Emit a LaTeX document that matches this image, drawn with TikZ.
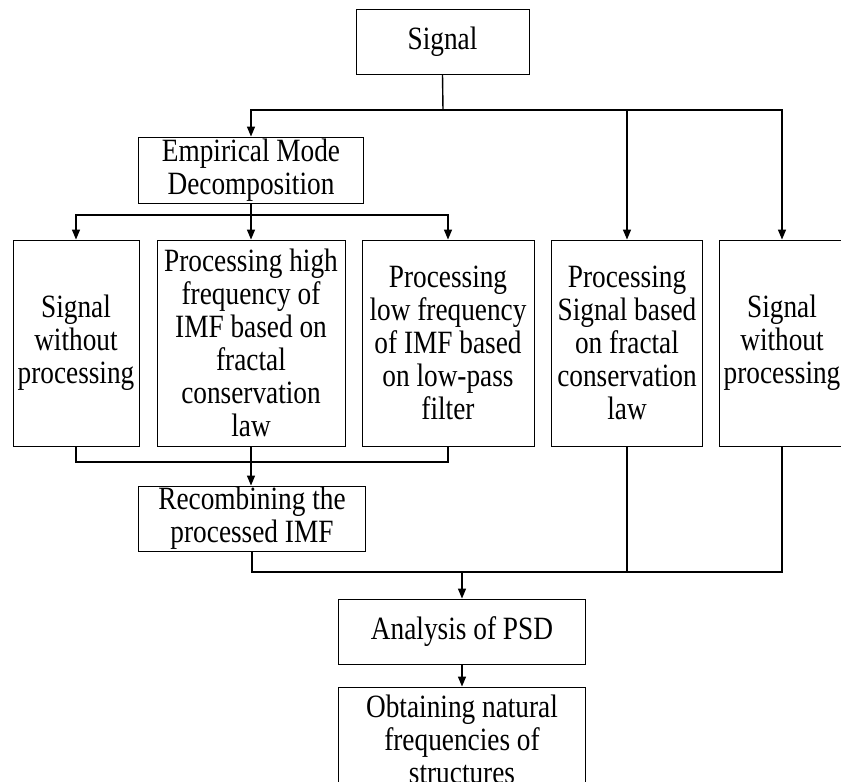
\documentclass[tikz,border=0pt]{standalone}
\usepackage{fontspec}
\setmainfont[FakeStretch=0.84]{Liberation Serif}
\usetikzlibrary{arrows.meta}
\begin{document}
\begin{tikzpicture}[x=1pt,y=-1pt,
  box/.style={draw=black,line width=0.9pt,inner sep=0pt,align=center,
    font=\fontsize{32.5}{33}\selectfont},
  conn/.style={draw=black,line width=1.4pt},
  arr/.style={conn,-{Triangle[length=10pt,width=8pt]}}]
\useasboundingbox (0,0) rectangle (841,782);
\fill[white] (0,0) rectangle (841,782);
% nodes
\node[box,minimum width=173pt,minimum height=65pt] (sig) at (442.5,41.5) {Signal};
\node[box,minimum width=225pt,minimum height=66pt] (emd) at (251,170) {Empirical Mode\\Decomposition};
\node[box,minimum width=126pt,minimum height=206pt] (b1) at (76,343) {Signal\\without\\processing};
\node[box,minimum width=188pt,minimum height=206pt] (b2) at (251,343) {Processing high\\frequency of\\IMF based on\\fractal\\conservation\\law};
\node[box,minimum width=172pt,minimum height=206pt] (b3) at (448,343) {Processing\\low frequency\\of IMF based\\on low-pass\\filter};
\node[box,minimum width=151pt,minimum height=206pt] (b4) at (627,343) {Processing\\Signal based\\on fractal\\conservation\\law};
\node[box,minimum width=126pt,minimum height=206pt] (b5) at (782,343) {Signal\\without\\processing};
\node[box,minimum width=227pt,minimum height=65pt] (rec) at (252,518.5) {Recombining the\\processed IMF};
\node[box,minimum width=247pt,minimum height=65pt] (psd) at (462,631.5) {Analysis of PSD};
\node[box,minimum width=247pt,minimum height=104pt] (obt) at (462,739) {Obtaining natural\\frequencies of\\structures};
% junctions
\coordinate (j1) at (443,110);
\coordinate (j2) at (251,215);
\coordinate (j3) at (251,462);
\coordinate (j4) at (462,572);
% connectors
\draw[conn] (sig.south) -- (j1);
\draw[arr] (j1) -| (emd.north);
\draw[arr] (j1) -| (b4.north);
\draw[arr] (j1) -| (b5.north);
\draw[conn] (emd.south) -- (j2);
\draw[arr] (j2) -| (b1.north);
\draw[arr] (j2) -- (b2.north);
\draw[arr] (j2) -| (b3.north);
\draw[conn] (b1.south) |- (j3) -| (b3.south);
\draw[arr] (b2.south) -- (b2.south |- rec.north);
\draw[conn] (rec.south) |- (j4) -| (b5.south);
\draw[conn] (b4.south) -- (b4.south |- j4);
\draw[arr] (j4) -- (psd.north);
\draw[arr] (psd.south) -- (obt.north);
\end{tikzpicture}
\end{document}
